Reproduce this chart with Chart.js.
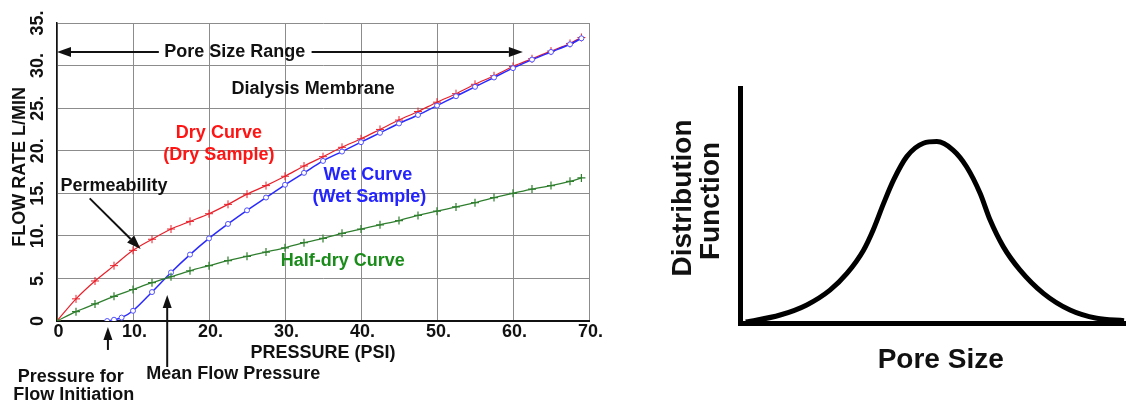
<!DOCTYPE html>
<html>
<head>
<meta charset="utf-8">
<script src="https://cdn.jsdelivr.net/npm/chart.js@4.4.1/dist/chart.umd.min.js"></script>
<style>
html, body { margin: 0; padding: 0; background: #fff; }
#wrap { position: relative; width: 1126px; height: 404px; overflow: hidden; }
#flowChart { position: absolute; left: 0; top: 0; }
#poreChart { position: absolute; left: 640px; top: 0; }
</style>
</head>
<body>
<div id="wrap">
  <canvas id="flowChart" width="640" height="404"></canvas>
  <canvas id="poreChart" width="486" height="404"></canvas>
</div>
<script>
// left chart: flow rate vs pressure
var pressure = [0, 2.5, 5, 7.5, 10, 12.5, 15, 17.5, 20, 22.5, 25, 27.5, 30, 32.5, 35, 37.5, 40,
                42.5, 45, 47.5, 50, 52.5, 55, 57.5, 60, 62.5, 65, 67.5, 69];
var dryFlow = [0, 2.6, 4.7, 6.5, 8.3, 9.6, 10.8, 11.7, 12.6, 13.7, 14.9, 15.9, 17.0, 18.2, 19.3, 20.4, 21.4,
               22.5, 23.6, 24.6, 25.7, 26.7, 27.8, 28.8, 29.9, 30.8, 31.7, 32.6, 33.3];
var halfDryFlow = [0, 1.1, 2.0, 2.9, 3.7, 4.5, 5.2, 5.9, 6.5, 7.1, 7.6, 8.1, 8.6, 9.2, 9.7, 10.3, 10.8,
                   11.3, 11.8, 12.4, 12.9, 13.4, 13.9, 14.5, 15.0, 15.5, 15.9, 16.4, 16.8];
var wetPressure = [6.6, 7.5, 8.5, 10, 12.5, 15, 17.5, 20, 22.5, 25, 27.5, 30, 32.5, 35, 37.5, 40,
                   42.5, 45, 47.5, 50, 52.5, 55, 57.5, 60, 62.5, 65, 67.5, 69];
var wetFlow = [0, 0.15, 0.4, 1.2, 3.4, 5.7, 7.8, 9.7, 11.4, 13.0, 14.5, 16.0, 17.4, 18.8, 19.9, 21.0,
               22.1, 23.2, 24.2, 25.3, 26.4, 27.5, 28.6, 29.7, 30.7, 31.6, 32.5, 33.2];
var xTickLabels = ['0', '10.', '20.', '30.', '40.', '50.', '60.', '70.'];
var yTickLabels = ['0', '5.', '10.', '15.', '20.', '25.', '30.', '35.'];

// right chart: pore size distribution
var poreSize = [1.5, 10.4, 17.3, 23.3, 27.7, 32, 34.5, 37.2, 39.8, 43.2, 47.5, 51, 55.2, 58.7,
                62.2, 64.8, 68.2, 72.5, 78.6, 85.5, 92.4, 99.5];
var distribution = [0.4, 3.4, 7.7, 14, 21.1, 31, 39.6, 50.9, 60.9, 70.8, 76.5, 77.2, 73.6, 66.5,
                    55.2, 43.8, 32.5, 22.6, 12.6, 5.5, 2, 1.0];

var FONT = '"Liberation Sans", Arial, sans-serif';

function pts(xs, ys) {
  return xs.map(function (x, i) { return { x: x, y: ys[i] }; });
}

function arrow(ctx, x1, y1, x2, y2, len, half) {
  var a = Math.atan2(y2 - y1, x2 - x1);
  var bx = x2 - len * Math.cos(a), by = y2 - len * Math.sin(a);
  ctx.beginPath();
  ctx.moveTo(x1, y1);
  ctx.lineTo(bx, by);
  ctx.stroke();
  ctx.beginPath();
  ctx.moveTo(x2, y2);
  ctx.lineTo(bx + half * Math.sin(a), by - half * Math.cos(a));
  ctx.lineTo(bx - half * Math.sin(a), by + half * Math.cos(a));
  ctx.closePath();
  ctx.fill();
}

var flowLabels = {
  id: 'flowLabels',
  afterDraw: function (chart) {
    var ctx = chart.ctx, xs = chart.scales.x, ys = chart.scales.y, area = chart.chartArea;
    var X = function (v) { return xs.getPixelForValue(v); };
    var Y = function (v) { return ys.getPixelForValue(v); };
    ctx.save();
    ctx.font = 'bold 18px ' + FONT;
    ctx.fillStyle = '#111';
    ctx.textAlign = 'center';
    ctx.textBaseline = 'middle';

    xs.ticks.forEach(function (t, i) {
      ctx.fillText(xTickLabels[i], X(t.value) + 1.5, area.bottom + 11);
    });
    ys.ticks.forEach(function (t, i) {
      ctx.save();
      ctx.translate(area.left - 18.5, Y(t.value));
      ctx.rotate(-Math.PI / 2);
      ctx.fillText(yTickLabels[i], 0, 0);
      ctx.restore();
    });

    // axis titles
    ctx.fillText('PRESSURE (PSI)', (area.left + area.right) / 2, area.bottom + 32);
    ctx.save();
    ctx.translate(area.left - 37, Y(18.1));
    ctx.rotate(-Math.PI / 2);
    ctx.fillText('FLOW RATE L/MIN', 0, 0);
    ctx.restore();

    // annotations
    var notes = [
      ['Pore Size Range', 23.4, 31.6, '#111'],
      ['Dialysis Membrane', 33.7, 27.3, '#111'],
      ['Dry Curve', 21.3, 22.1, '#ff1414'],
      ['(Dry Sample)', 21.3, 19.5, '#ff1414'],
      ['Permeability', 7.5, 15.8, '#111'],
      ['Wet Curve', 40.9, 17.2, '#2323ff'],
      ['(Wet Sample)', 41.1, 14.6, '#2323ff'],
      ['Half-dry Curve', 37.6, 7.06, '#1a8c1a'],
      ['Pressure for', 1.8, -6.6, '#111'],
      ['Flow Initiation', 2.2, -8.7, '#111'],
      ['Mean Flow Pressure', 23.2, -6.2, '#111']
    ];
    notes.forEach(function (n) {
      ctx.fillStyle = n[3];
      ctx.fillText(n[0], X(n[1]), Y(n[2]));
    });

    ctx.strokeStyle = '#111';
    ctx.fillStyle = '#111';
    ctx.lineWidth = 2;
    arrow(ctx, X(13.4), Y(31.6), X(0), Y(31.6), 14, 5);
    arrow(ctx, X(33.5), Y(31.6), X(61.3), Y(31.6), 14, 5);
    arrow(ctx, X(4.3), Y(14.4), X(11.0), Y(8.47), 14, 5);
    arrow(ctx, X(6.7), Y(-3.4), X(6.7), Y(-0.7), 13, 4.5);
    arrow(ctx, X(14.5), Y(-5.4), X(14.5), Y(3.06), 13, 4.5);
    ctx.restore();
  }
};

new Chart(document.getElementById('flowChart'), {
  type: 'line',
  data: {
    datasets: [
      {
        label: 'Half-dry Curve',
        data: pts(pressure, halfDryFlow),
        borderColor: '#2f7f2f',
        borderWidth: 1.3,
        pointStyle: 'cross',
        pointRadius: 4,
        pointBorderColor: '#2f7f2f',
        pointBorderWidth: 1.2,
        fill: false,
        tension: 0.3
      },
      {
        label: 'Wet Curve',
        data: pts(wetPressure, wetFlow),
        borderColor: '#2a2aff',
        borderWidth: 1.5,
        pointStyle: 'circle',
        pointRadius: 2.5,
        pointBackgroundColor: '#fff',
        pointBorderColor: '#5050ff',
        pointBorderWidth: 1,
        fill: false,
        tension: 0.3
      },
      {
        label: 'Dry Curve',
        data: pts(pressure, dryFlow),
        borderColor: '#e8202a',
        borderWidth: 1.2,
        pointStyle: 'cross',
        pointRadius: 4,
        pointBorderColor: '#e8202a',
        pointBorderWidth: 1,
        fill: false,
        tension: 0.3
      }
    ]
  },
  options: {
    responsive: false,
    animation: false,
    layout: { padding: { left: 57, top: 23, right: 51, bottom: 83 } },
    plugins: { legend: { display: false }, tooltip: { enabled: false } },
    scales: {
      x: {
        type: 'linear', min: 0, max: 70,
        ticks: { stepSize: 10, display: false },
        grid: { color: '#8c8c8c', lineWidth: 1, drawTicks: false },
        border: { color: '#111', width: 2 },
        afterFit: function (s) { s.height = 0; }
      },
      y: {
        type: 'linear', min: 0, max: 35,
        ticks: { stepSize: 5, display: false },
        grid: { color: '#8c8c8c', lineWidth: 1, drawTicks: false },
        border: { color: '#111', width: 1.5 },
        afterFit: function (s) { s.width = 0; }
      }
    }
  },
  plugins: [flowLabels]
});

var poreLabels = {
  id: 'poreLabels',
  afterDraw: function (chart) {
    var ctx = chart.ctx, xs = chart.scales.x;
    ctx.save();
    ctx.font = 'bold 28px ' + FONT;
    ctx.fillStyle = '#111';
    ctx.textAlign = 'center';
    ctx.textBaseline = 'middle';
    ctx.fillText('Pore Size', xs.getPixelForValue(52), 360);
    [['Distribution', 43, 198], ['Function', 71, 201]].forEach(function (t) {
      ctx.save();
      ctx.translate(t[1], t[2]);
      ctx.rotate(-Math.PI / 2);
      ctx.fillText(t[0], 0, 0);
      ctx.restore();
    });
    ctx.restore();
  }
};

new Chart(document.getElementById('poreChart'), {
  type: 'line',
  data: {
    datasets: [{
      label: 'Distribution Function',
      data: pts(poreSize, distribution),
      borderColor: '#000',
      borderWidth: 5,
      pointRadius: 0,
      fill: false,
      cubicInterpolationMode: 'monotone'
    }]
  },
  options: {
    responsive: false,
    animation: false,
    layout: { padding: { left: 100, top: 88, right: 0, bottom: 81 } },
    plugins: { legend: { display: false }, tooltip: { enabled: false } },
    scales: {
      x: {
        type: 'linear', min: 0, max: 100,
        ticks: { display: false },
        grid: { display: false },
        border: { color: '#000', width: 5 },
        afterFit: function (s) { s.height = 0; }
      },
      y: {
        type: 'linear', min: 0, max: 100,
        ticks: { display: false },
        grid: { display: false },
        border: { color: '#000', width: 5 },
        afterFit: function (s) { s.width = 0; }
      }
    }
  },
  plugins: [poreLabels]
});
</script>
</body>
</html>
